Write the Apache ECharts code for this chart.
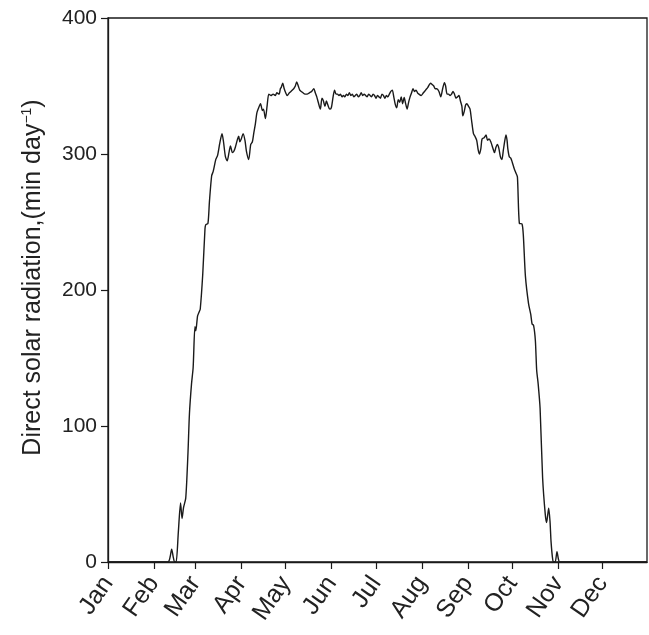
<!DOCTYPE html>
<html>
<head>
<meta charset="utf-8">
<script src="https://cdn.jsdelivr.net/npm/echarts@6/dist/echarts.min.js"></script>
<style>
  html, body { margin: 0; padding: 0; background: #fff; }
  #chart { width: 649px; height: 635px; }
</style>
</head>
<body>
<div id="chart"></div>
<script>
// Day of year (0 = 1 January) and direct solar radiation (min per day)
const days = [
  0, 40.5, 42, 43, 44, 45, 46, 47.5, 49, 50, 51, 52.5, 54, 55, 56.4, 57.5, 58.7, 59.3, 60.5, 61.6,
  62.3, 64, 65.5, 66, 67.5, 68.5, 70, 71, 72.8, 74, 75.5, 77, 78, 79.3, 80.5, 81.7, 82.7, 84, 85, 86,
  87.5, 88.3, 89, 90, 91.2, 92.5, 93.5, 95, 96.4, 97.5, 98.4, 99.5, 100.5, 101.4, 103, 104.3, 105, 106.3, 107.5, 108.6,
  110, 111.5, 113, 114, 115.5, 116.4, 117, 118, 119, 120, 121, 122.5, 123.5, 125.4, 126.5, 127.4, 128.5, 129.5, 130.5, 131.7,
  133, 134.5, 136, 137.5, 139, 140, 141, 142, 143.4, 144.5, 145.5, 146.5, 147.5, 148.5, 149.7, 150.8, 152, 153, 154, 155,
  156, 157, 158, 159, 160, 161, 162, 163, 164, 165, 166, 167, 168, 169, 170, 171, 172, 173, 174, 175,
  176, 177, 178, 179, 180, 181, 182, 183, 184, 185, 186, 187, 188, 189, 190, 191, 192, 193, 194, 195,
  196, 197, 198, 199, 200, 201, 202, 203, 204, 205, 206, 207, 208, 209, 210, 211.5, 213, 214.5, 216, 217,
  217.8, 219, 220, 221, 222, 223.5, 224.7, 226, 227.2, 228, 229, 230, 231, 232, 233, 234, 235, 236, 237, 238,
  239, 239.6, 240.5, 241.5, 242.3, 243.5, 244.5, 245.5, 246.8, 247.8, 249, 250, 250.8, 251.8, 252.6, 254, 255.3, 256.3, 257.3, 258.5,
  260, 261, 262, 263, 264, 265, 266, 267, 268, 268.8, 269.5, 270, 271, 272, 273, 274.4, 275.5, 276.5, 277.8, 279.6,
  280.5, 281.9, 284, 285.5, 286.4, 287.4, 288.6, 289.5, 290.5, 291.8, 293.5, 295.3, 296.2, 297, 297.6, 298.5, 299.2, 300.3, 301, 302,
  303.2, 304.2, 305, 364
];
const radiation = [
  0, 0, 4, 9.5, 4, 0, 0, 22, 43.5, 32, 40, 47, 80, 109, 131, 143, 173, 170, 181, 184,
  186, 212, 245, 248, 249, 265, 284, 287, 296, 299, 308, 315, 309, 298, 295, 301, 306, 301, 302, 305,
  311, 313, 309, 311, 315, 310, 302, 296, 307, 309, 315, 322, 330, 333, 337, 332, 333, 326, 336, 344,
  343, 344, 343, 345, 344, 348, 349, 352, 348, 345, 343, 345, 346, 348, 350, 353, 350, 347, 346, 345,
  344, 344, 345, 346, 348, 345, 342, 338, 333, 341, 339, 335, 339, 336, 333, 334, 342, 347, 344, 344,
  343, 344, 342, 343, 342, 344, 343, 345, 343, 344, 342, 343, 344, 342, 343, 345, 343, 344, 343, 342,
  344, 343, 342, 344, 343, 341, 343, 342, 341, 344, 343, 341, 343, 342, 344, 346, 347, 342, 336.5, 334,
  340, 338, 342, 337, 341.5, 337, 333, 338, 342, 345, 348, 346, 347, 345, 344, 343, 345, 347, 349, 351,
  352, 351, 350, 348, 348, 346, 342, 348, 352.5, 350, 344, 344, 343, 344, 346, 344, 341, 342, 343, 339,
  335, 328, 331, 336, 337, 335, 333, 325, 315, 313, 310, 303, 300, 304, 311, 312, 314, 310, 311, 309,
  304, 301, 305, 307, 304, 298, 296, 303, 310, 314, 310, 304, 298, 297, 294, 289, 286, 283, 249, 248.6,
  240, 210, 190, 182, 175, 174, 163, 141, 131, 113, 62, 35, 29, 35, 39.6, 30, 15, 2, 0, 0,
  7.6, 2, 0, 0
];

// First day of each month and its label
const monthStarts = [0, 31, 59, 90, 120, 151, 181, 212, 243, 273, 304, 334];
const monthNames = ['Jan', 'Feb', 'Mar', 'Apr', 'May', 'Jun', 'Jul', 'Aug', 'Sep', 'Oct', 'Nov', 'Dec'];
const yTicks = [0, 100, 200, 300, 400];

const seriesData = days.map((d, i) => [d, radiation[i]]);
const ink = '#1a1a1a';
const font = 'Liberation Sans, Arial, Helvetica, sans-serif';

const chart = echarts.init(document.getElementById('chart'), null, { renderer: 'canvas' });
chart.setOption({
  backgroundColor: '#ffffff',
  animation: false,
  grid: {
    left: 108, right: 2, top: 18, bottom: 73,
    show: true, borderColor: ink, borderWidth: 1.3, backgroundColor: 'transparent'
  },
  xAxis: {
    type: 'value',
    min: 0,
    max: 364,
    axisLine: { show: true, lineStyle: { color: ink, width: 1.3 } },
    axisTick: {
      show: true, inside: false, length: 7,
      customValues: monthStarts,
      lineStyle: { color: ink, width: 1.2 }
    },
    axisLabel: {
      customValues: monthStarts,
      rotate: 55,
      margin: 17,
      fontSize: 25,
      fontFamily: font,
      color: '#222',
      formatter: v => monthNames[monthStarts.indexOf(Math.round(v))] || ''
    },
    splitLine: { show: false }
  },
  yAxis: {
    type: 'value',
    min: 0,
    max: 400,
    interval: 100,
    axisLine: { show: true, lineStyle: { color: ink, width: 1.3 } },
    axisTick: { show: true, inside: false, length: 7, lineStyle: { color: ink, width: 1.2 } },
    axisLabel: {
      margin: 11, fontSize: 21, fontFamily: font, color: '#222',
      customValues: yTicks
    },
    splitLine: { show: false },
    name: '{a|Direct solar radiation,(min day}{s|−1}{a|)}',
    nameLocation: 'middle',
    nameRotate: 90,
    nameGap: 62,
    nameTextStyle: {
      padding: [0, 0, 0, 25],
      rich: {
        a: { fontSize: 25, fontFamily: font, color: '#222' },
        s: { fontSize: 14, fontFamily: font, color: '#222', verticalAlign: 'top', padding: [0, 0, 12, 0] }
      }
    }
  },
  series: [{
    type: 'line',
    data: seriesData,
    showSymbol: false,
    smooth: 0.25,
    lineStyle: { color: ink, width: 1.4 },
    z: 3
  }]
});
</script>
</body>
</html>
